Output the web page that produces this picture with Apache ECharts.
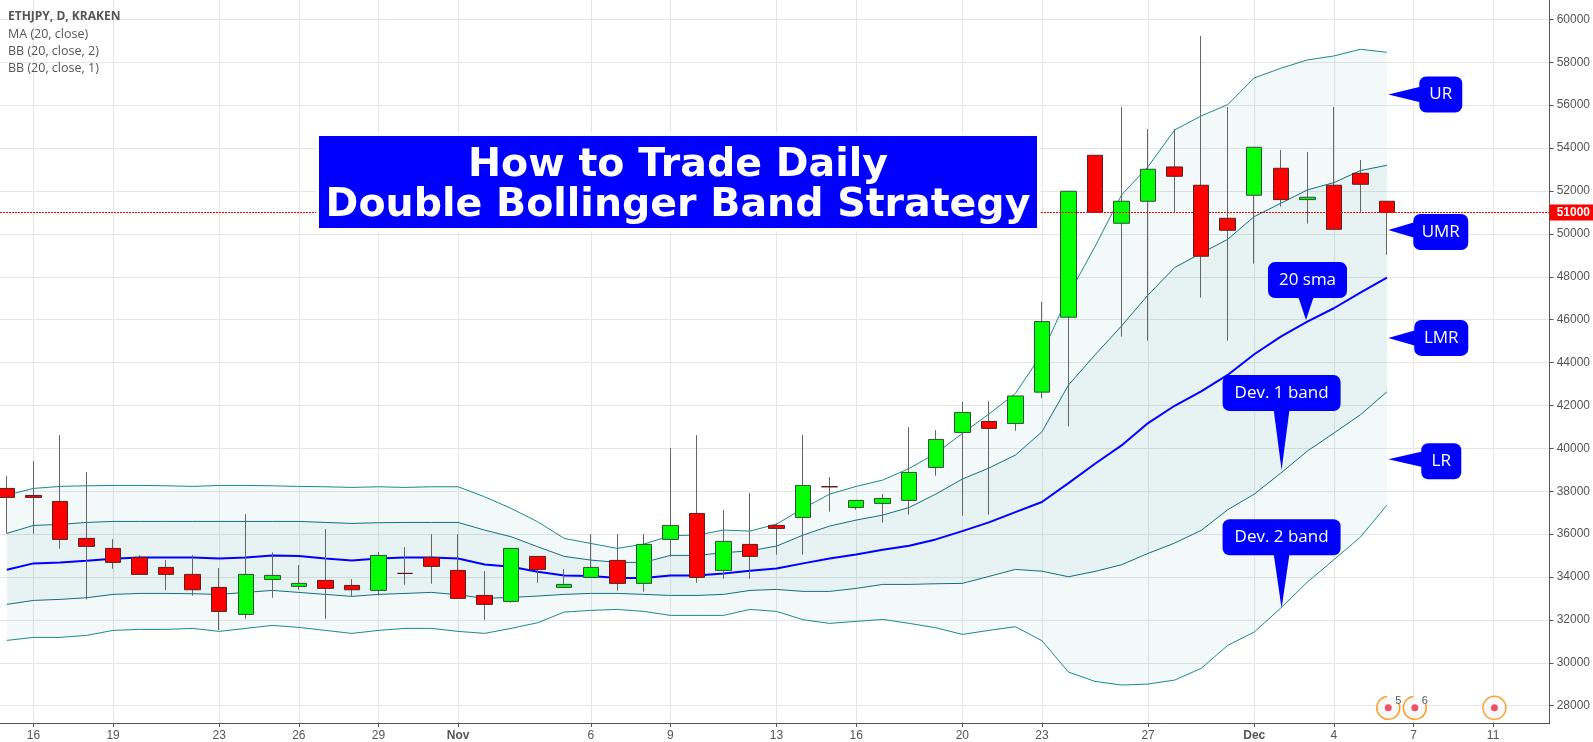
<!DOCTYPE html>
<html><head><meta charset="utf-8">
<style>html,body{margin:0;padding:0;background:#fff}#c{width:1593px;height:742px}</style>
<script src="https://cdn.jsdelivr.net/npm/echarts@6/dist/echarts.min.js"></script>
</head><body><div id="c"></div>
<script>
// Sessions: index 0 = Oct 15 ... index 52 = Dec 6
const opens  = [38130,37804,37524,35800,35333,34914,34448,34122,33515,32256,33888,33562,33842,33608,33375,34168,34914,34308,33142,32863,34960,33515,33981,34774,33702,35753,36965,34308,35520,36406,36779,38208,37245,37431,37571,39110,40741,41254,41161,42620,46112,53664,50494,51520,53120,52266,50727,51800,53058,51597,52266,52825,51520];
const closes = [37711,37711,35753,35427,34681,34122,34122,33406,32396,34122,34075,33702,33469,33406,35007,34168,34494,33002,32723,35333,34354,33655,34448,33702,35520,36406,33981,35660,34960,36266,38270,38208,37571,37664,38876,40415,41674,40928,42440,45910,51986,51007,51520,53012,52685,48956,50168,54037,51597,51706,50214,52312,51000];
const lows   = [36033,36017,35318,32956,34385,34122,33391,33127,31526,32054,33034,33406,32054,33111,33127,33640,33686,33002,32008,32800,33733,33515,33981,33360,33313,34945,33733,33919,33919,35038,35038,37043,37136,36530,36903,38721,36856,36903,40819,42340,41020,51007,45210,45024,51022,47029,45024,48614,51271,50479,50214,51000,49018];
const highs  = [38705,39405,40617,38892,35768,35023,34789,35023,34417,36934,35147,34556,36235,33904,35162,35395,36002,36002,34277,35333,34960,34370,36002,36002,36002,40011,40617,37120,37913,36499,40617,38659,37571,37866,40990,40850,42171,42202,42440,46830,51986,53664,55918,54892,54892,59228,55918,54037,53913,53820,55918,53447,51520];
const ma20   = [34339,34635,34681,34759,34852,34914,34914,34914,34867,34914,35007,34976,34867,34774,34867,34914,34914,34867,34587,34479,34246,34075,34044,33950,33950,34075,34075,34168,34292,34401,34635,34867,35054,35271,35458,35753,36141,36546,37027,37500,38380,39280,40135,41176,41984,42653,43423,44387,45211,45910,46532,47262,47961];
const upper2 = [37820,38131,38224,38255,38270,38270,38255,38224,38270,38270,38255,38224,38208,38177,38208,38177,38208,38208,37742,37198,36577,35800,35566,35333,35535,35924,35955,36188,36141,36468,37198,37866,38224,38519,39063,39762,40695,41596,42559,44400,47150,49406,51815,53136,54845,55498,56026,57270,57720,58109,58295,58606,58466];
const upper1 = [36033,36406,36452,36545,36592,36592,36592,36592,36592,36592,36592,36592,36545,36499,36530,36545,36545,36545,36188,35877,35411,34960,34789,34681,34681,35007,35007,35131,35224,35442,35955,36375,36654,36887,37245,37866,38566,39079,39685,40770,42950,44356,45708,47153,48427,49096,49747,50805,51426,52048,52390,52950,53198];
const lower1 = [32723,32909,32956,33034,33189,33235,33235,33220,33189,33282,33375,33282,33189,33095,33189,33235,33282,33173,33002,33049,33111,33189,33235,33235,33189,33142,33142,33189,33375,33422,33329,33329,33469,33655,33655,33686,33702,34028,34354,34270,34012,34261,34572,35100,35582,36172,37136,37866,38845,39871,40710,41565,42637];
const lower2 = [31044,31184,31184,31277,31510,31557,31557,31604,31464,31604,31744,31650,31510,31371,31510,31604,31604,31464,31371,31604,31868,32365,32443,32489,32396,32210,32210,32210,32489,32396,32008,31837,31930,32023,31837,31635,31324,31510,31682,31030,29568,29133,28962,29008,29195,29739,30812,31433,32552,33764,34805,35862,37354];

const lastPrice = 51000;
const yTicks = [28000,30000,32000,34000,36000,38000,40000,42000,44000,46000,48000,50000,52000,54000,56000,58000,60000];
const xTickDays   = [1,4,8,11,14,17,22,25,29,32,36,39,43,47,50,53,56];
const xTickLabels = ['16','19','23','26','29','Nov','6','9','13','16','20','23','27','Dec','4','7','11'];

const headerLines = ['ETHJPY, D, KRAKEN','MA (20, close)','BB (20, close, 2)','BB (20, close, 1)'];
const titleLines = ['How to Trade Daily','Double Bollinger Band Strategy'];

const calloutLabels = ['UR','UMR','LMR','LR','20 sma','Dev. 1 band','Dev. 2 band'];
const calloutTipDay = [52.05,52.05,52.05,52.05,48.95,48.03,48.03];
const calloutTipVal = [56500,50180,45150,39490,45980,38990,32540];

const eventDays   = [52.05,53.05,56.05];
const eventCounts = ['5','6',''];
const eventLevel  = 27900;

// layout of the annotation boxes relative to their tips (pixels)
const calloutBoxes = [
  {side:'left',dx:31,w:43,cy:0},{side:'left',dx:25,w:55,cy:2},{side:'left',dx:26,w:54,cy:0},{side:'left',dx:33,w:40,cy:2},
  {side:'up',dy:22,h:36,x0:-38,w:79},{side:'up',dy:59,h:36,x0:-59,w:118},{side:'up',dy:53,h:36,x0:-59,w:118}
];

const teal2 = '#1c8a8c', teal1 = '#12707f', fill = 'rgba(0,128,128,0.048)', ink = '#555555', gridc='#e5e5e5';
const labelMap = {}; xTickDays.forEach((d,i)=>labelMap[d]=xTickLabels[i]);

function bandFill(up, lo){
  return {type:'custom', silent:true, z:1, clip:false, data:[0], encode:{x:[],y:[]},
    renderItem(p,api){
      const pts=[];
      up.forEach((v,i)=>pts.push(api.coord([i,v])));
      for(let i=lo.length-1;i>=0;i--) pts.push(api.coord([i,lo[i]]));
      return {type:'polygon',shape:{points:pts},style:{fill:fill}};
    }};
}
function line(arr,color,w,z){
  return {type:'line',data:arr.map((v,i)=>[i,v]),showSymbol:false,symbol:'none',silent:true,z:z,
    lineStyle:{color:color,width:w},itemStyle:{color:color}};
}

const option = {
  animation:false,
  backgroundColor:'#fff',
  grid:{left:0,right:41,top:0,bottom:19,containLabel:false},
  tooltip:{show:false},
  xAxis:{type:'value',min:-0.26,max:58.13,position:'bottom',
    axisLine:{show:true,onZero:false,lineStyle:{color:ink,width:1}},
    axisTick:{show:true,length:4,lineStyle:{color:ink},customValues:xTickDays},
    axisLabel:{customValues:xTickDays,margin:7,fontFamily:'Liberation Sans',fontSize:12,color:ink,
      hideOverlap:false,
      formatter:v=>{const s=labelMap[v]; return (s==='Nov'||s==='Dec')?'{b|'+s+'}':s;},
      rich:{b:{fontWeight:'bold',fontFamily:'Liberation Sans',fontSize:12,color:ink}}},
    splitLine:{show:true,lineStyle:{color:gridc,width:1}}},
  yAxis:{type:'value',min:27193,max:60904,position:'right',scale:true,
    axisLine:{show:true,onZero:false,lineStyle:{color:ink,width:1}},
    axisTick:{show:true,length:4,lineStyle:{color:ink},customValues:yTicks},
    axisLabel:{customValues:yTicks,margin:7,padding:[4,0,0,0],fontFamily:'Liberation Sans',fontSize:12,color:ink,formatter:v=>String(v)},
    splitLine:{show:true,lineStyle:{color:gridc,width:1}}},
  series:[
    bandFill(upper2,lower2),
    bandFill(upper1,lower1),
    line(upper2,teal2,1,2), line(upper1,teal1,1,2), line(lower1,teal1,1,2), line(lower2,teal2,1,2),
    line(ma20,'#0000ff',2,2),
    {type:'candlestick',z:3,silent:true,barWidth:1,
      data:opens.map((o,i)=>[i,o,closes[i],lows[i],highs[i]]),encode:{x:0,y:[1,2,3,4]},
      itemStyle:{color:'#666',color0:'#666',borderColor:'#666',borderColor0:'#666',borderColorDoji:'#666',borderWidth:1}},
    {type:'candlestick',z:4,silent:true,barWidth:16,
      data:opens.map((o,i)=>[i,o,closes[i],Math.min(o,closes[i]),Math.max(o,closes[i])]),encode:{x:0,y:[1,2,3,4]},
      itemStyle:{color:'#00ff00',color0:'#ff0000',borderColor:'#2f4f3a',borderColor0:'#5a2020',borderColorDoji:'#5a1010',borderWidth:1},
      markLine:{silent:true,symbol:'none',animation:false,
        lineStyle:{color:'#ff0000',type:[2,1],width:1},
        label:{position:'end',distance:0,formatter:String(lastPrice),backgroundColor:'#ff0000',color:'#fff',fontWeight:'bold',
          fontFamily:'Liberation Sans',fontSize:12,padding:[2,3,2,7]},
        data:[{yAxis:lastPrice}]}},
    {type:'custom',z:5,silent:true,clip:false,data:eventDays.map((d,i)=>[d,eventLevel,i]),encode:{x:0,y:1},
      renderItem(p,api){
        const c=api.coord([api.value(0),api.value(1)]);
        const n=eventCounts[api.value(2)];
        const kids=[
          {type:'circle',shape:{cx:c[0],cy:c[1],r:11},style:{fill:'#f7f8fa'}},
          {type:'arc',shape:{cx:c[0],cy:c[1],r:11.5,startAngle:n?-0.35:0,endAngle:n?1.5*Math.PI-0.1:2*Math.PI,clockwise:true},style:{fill:null,stroke:'#ff9f2e',lineWidth:1.5}},
          {type:'circle',shape:{cx:c[0],cy:c[1],r:3.5},style:{fill:'#ef5264'}}
        ];
        if(n) kids.push({type:'text',style:{x:c[0]+10,y:c[1]-7,text:n,fill:ink,font:'11px "Liberation Sans"',textAlign:'center',textVerticalAlign:'middle'}});
        return {type:'group',children:kids};
      }},
    {type:'custom',z:6,silent:true,clip:false,data:calloutLabels.map((s,i)=>[calloutTipDay[i],calloutTipVal[i],i]),encode:{x:0,y:1},
      renderItem(p,api){
        const t=api.coord([api.value(0),api.value(1)]);
        const i=api.value(2), b=calloutBoxes[i];
        let rect,tail;
        if(b.side==='left'){
          rect={x:t[0]+b.dx,y:t[1]-18+b.cy,width:b.w,height:36};
          tail=[[t[0],t[1]],[t[0]+b.dx+2,t[1]-8],[t[0]+b.dx+2,t[1]+8]];
        }else{
          rect={x:t[0]+b.x0,y:t[1]-b.dy-b.h,width:b.w,height:b.h};
          tail=[[t[0],t[1]],[t[0]-8,t[1]-b.dy-2],[t[0]+8,t[1]-b.dy-2]];
        }
        return {type:'group',children:[
          {type:'polygon',shape:{points:tail},style:{fill:'#0000ff'}},
          {type:'rect',shape:Object.assign({r:7},rect),style:{fill:'#0000ff'}},
          {type:'text',style:{x:rect.x+rect.width/2,y:rect.y+rect.height/2,text:calloutLabels[i],fill:'#fff',
            font:'17px "Open Sans"',textAlign:'center',textVerticalAlign:'middle'}}
        ]};
      }}
  ],
  graphic:[
    ...headerLines.map((s,i)=>({type:'text',left:8,top:11+i*17,z:50,silent:true,
      style:{text:s,fill:ink,font:(i===0?'bold 12px':'12.5px')+' "Open Sans"'}})),
    {type:'rect',z:60,silent:true,shape:{x:319,y:136,width:718,height:92},style:{fill:'#0000ff',stroke:'#fff',lineWidth:6},},
    {type:'rect',z:61,silent:true,shape:{x:319,y:136,width:718,height:92},style:{fill:'#0000ff'}},
    ...titleLines.map((s,i)=>({type:'text',z:62,silent:true,x:678,y:166+i*39.5,
      style:{text:s,fill:'#fff',font:'bold 39.5px "DejaVu Sans"',textAlign:'center',textVerticalAlign:'middle'}}))
  ]
};
const chart = echarts.init(document.getElementById('c'),null,{renderer:'canvas'});
chart.setOption(option);
</script></body></html>
